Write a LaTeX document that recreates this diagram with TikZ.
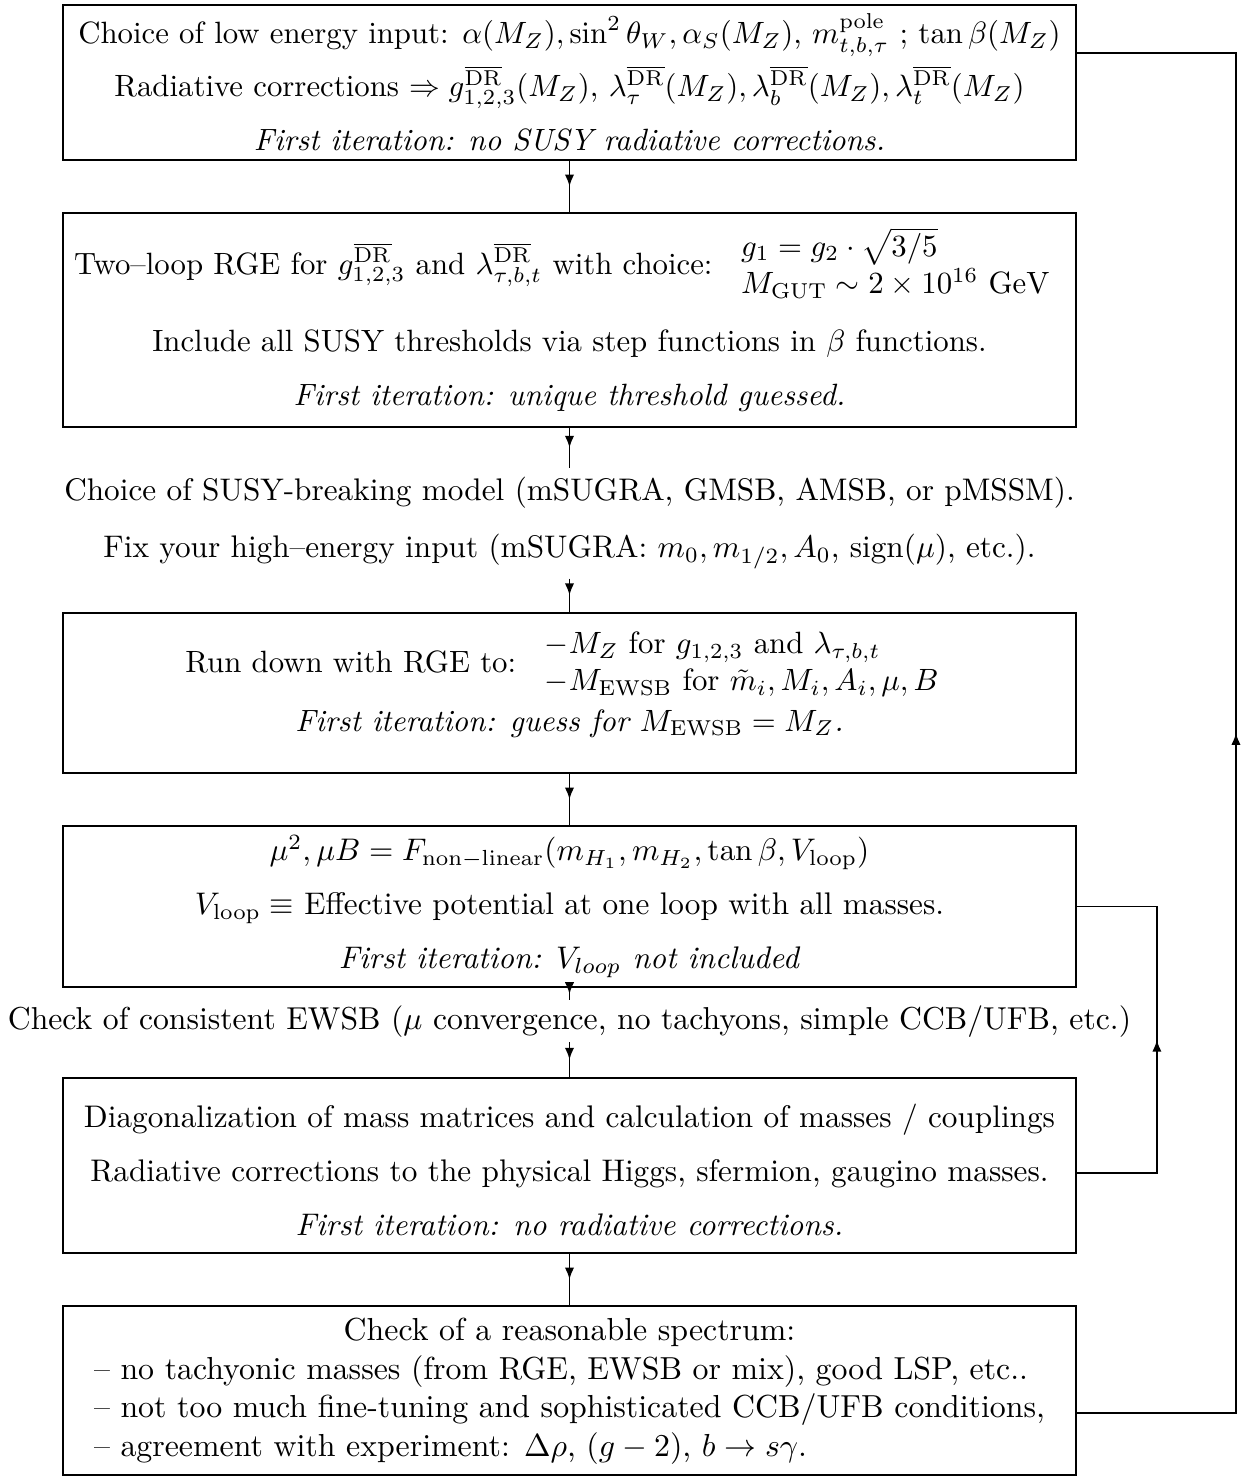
\RequirePackage{fix-cm}
\documentclass[tikz,border=0pt]{standalone}
\usepackage{amsmath}
\usetikzlibrary{calc,positioning,arrows.meta,decorations.markings}

\begin{document}
\begin{tikzpicture}[
  stepbox/.style={draw, line width=0.6pt, minimum width=11.852cm, align=center, inner sep=0pt, font=\fontsize{10.4pt}{12.5pt}\selectfont},
  smallbox/.style={stepbox, font=\fontsize{10.25pt}{12.4pt}\selectfont},
  flowtext/.style={align=center, inner sep=3pt, font=\fontsize{10.4pt}{12.5pt}\selectfont},
  midarrow/.style={line width=0.6pt, decoration={markings, mark=at position 0.5 with {\arrow{Latex[length=1.4mm,width=1.1mm]}}}, postaction={decorate}}
]
  \useasboundingbox (0,0) rectangle (14.531,-17.304);
  % Low energy input
  \node[smallbox, minimum height=1.813cm] (input) at (6.663,-0.965) {Choice of low energy input: $\alpha(M_Z), \sin^2\theta_W, \alpha_S(M_Z)$, $m^{\mathrm{pole}}_{t,b,\tau}$ ; $\tan\beta(M_Z)$\\[2pt]
    Radiative corrections $\Rightarrow g^{\overline{\mathrm{DR}}}_{1,2,3}(M_Z)$, $\lambda^{\overline{\mathrm{DR}}}_\tau(M_Z), \lambda^{\overline{\mathrm{DR}}}_b(M_Z), \lambda^{\overline{\mathrm{DR}}}_t(M_Z)$\\[5.5pt]
    \textit{First iteration: no SUSY radiative corrections.}};
  % Two-loop running up
  \node[smallbox, minimum height=2.504cm] (rge) at (6.663,-3.744) {Two--loop RGE for $g^{\overline{\mathrm{DR}}}_{1,2,3}$ and $\lambda^{\overline{\mathrm{DR}}}_{\tau,b,t}$ with choice: $\begin{array}{l} g_1 = g_2\cdot\sqrt{3/5}\\ M_{\mathrm{GUT}}\sim 2\times 10^{16}~\mathrm{GeV}\end{array}$\\[7.5pt]
    Include all SUSY thresholds via step functions in $\beta$ functions.\\[5.5pt]
    \textit{First iteration: unique threshold guessed.}};
  % High energy input
  \node[flowtext] (model) at (6.663,-6.12) {Choice of SUSY-breaking model (mSUGRA, GMSB, AMSB, or pMSSM).\\[6.5pt]
    Fix your high--energy input (mSUGRA: $m_0, m_{1/2}, A_0$, sign($\mu$), etc.).};
  % Running down
  \node[smallbox, minimum height=1.872cm, text depth=0.32cm] (rundown) at (6.663,-8.108) {Run down with RGE to: $\begin{array}{l} -M_Z \text{ for } g_{1,2,3} \text{ and } \lambda_{\tau,b,t}\\ -M_{\mathrm{EWSB}} \text{ for } \tilde m_i, M_i, A_i, \mu, B\end{array}$\\[1.5pt]
    \textit{First iteration: guess for $M_{\mathrm{EWSB}}=M_Z$.}};
  % EWSB
  \node[stepbox, minimum height=1.884cm] (potential) at (6.663,-10.606) {$\mu^2, \mu B = F_{\mathrm{non-linear}}(m_{H_1}, m_{H_2}, \tan\beta, V_{\mathrm{loop}})$\\[5.5pt]
    $V_{\mathrm{loop}}\equiv$ Effective potential at one loop with all masses.\\[5.5pt]
    \textit{First iteration: $V_{loop}$ not included}};
  \node[flowtext, inner sep=1.5pt, font=\fontsize{10.55pt}{12.6pt}\selectfont] (ewsb) at (6.663,-11.95) {Check of consistent EWSB ($\mu$ convergence, no tachyons, simple CCB/UFB, etc.)};
  % Mass spectrum
  \node[stepbox, minimum height=2.047cm] (masses) at (6.663,-13.636) {\rule{0pt}{11pt}Diagonalization of mass matrices and calculation of masses / couplings\\[5.5pt]
    Radiative corrections to the physical Higgs, sfermion, gaugino masses.\\[5.5pt]
    \textit{First iteration: no radiative corrections.}};
  \node[stepbox, minimum height=1.98cm, font=\fontsize{10.6pt}{12.8pt}\selectfont] (spectrum) at (6.663,-16.27) {\begin{tabular}{@{}l@{}}
    \multicolumn{1}{c}{Check of a reasonable spectrum:}\\
    -- no tachyonic masses (from RGE, EWSB or mix), good LSP, etc..\\
    -- not too much fine-tuning and sophisticated CCB/UFB conditions,\\
    -- agreement with experiment: $\Delta\rho$, $(g-2)$, $b\to s\gamma$.
  \end{tabular}};
  % Flow down
  \draw[midarrow] (input) -- (rge);
  \draw[midarrow] (rge) -- (model);
  \draw[midarrow] (model) -- (rundown);
  \draw[midarrow] (rundown) -- (potential);
  \draw[midarrow] (potential) -- (ewsb);
  \draw[midarrow] (ewsb) -- (masses);
  \draw[midarrow] (masses) -- (spectrum);
  % Iteration loops
  \draw[midarrow] ([yshift=-0.088cm]masses.east) -- ++(0.936,0) |- (potential.east);
  \draw[midarrow] ([yshift=-0.26cm]spectrum.east) -- ++(1.861,0) |- ([yshift=0.345cm]input.east);
\end{tikzpicture}
\end{document}
